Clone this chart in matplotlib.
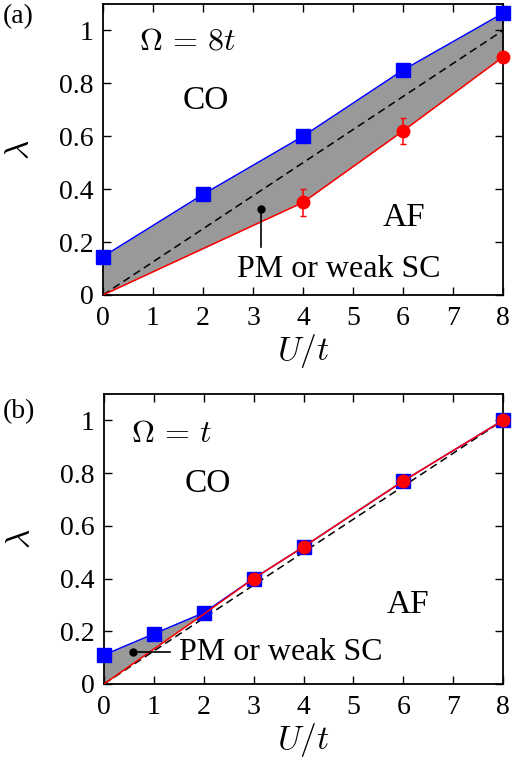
import numpy as np
import matplotlib
matplotlib.use("Agg")
import matplotlib.pyplot as plt

plt.rcParams['font.family'] = ['Liberation Serif', 'DejaVu Serif']
plt.rcParams['mathtext.fontset'] = 'cm'

# Omega = 8t
u_co_a = [0, 2, 4, 6, 8]
lam_co_a = [0.145, 0.38, 0.60, 0.85, 1.065]
u_af_a = [0, 4, 6, 8]
lam_af_a = [0.0, 0.35, 0.62, 0.90]
err_af_a = [0.0, 0.05, 0.05, 0.0]

# Omega = t
u_co_b = [0, 1, 2, 3, 4, 6, 8]
lam_co_b = [0.11, 0.19, 0.27, 0.40, 0.52, 0.77, 1.0]
u_af_b = [0, 2, 3, 4, 6, 8]
lam_af_b = [0.0, 0.265, 0.40, 0.52, 0.77, 1.0]

u_diag = [0, 8]
lam_diag = [0, 1]

xticks = [0, 1, 2, 3, 4, 5, 6, 7, 8]
yticks = [0, 0.2, 0.4, 0.6, 0.8, 1.0]
yticklabels = ['0', '0.2', '0.4', '0.6', '0.8', '1']

fig = plt.figure(figsize=(5.29, 7.62), dpi=100)
ax1 = fig.add_axes([0.1947, 0.6129, 0.7562, 0.3819])
ax2 = fig.add_axes([0.1966, 0.1024, 0.7543, 0.3806])


def style(ax):
    ax.set_xlim(0, 8)
    ax.set_ylim(0, 1.1)
    ax.set_xticks(xticks)
    ax.set_yticks(yticks)
    ax.set_yticklabels(yticklabels)
    ax.tick_params(direction='in', top=True, right=True, length=6, width=1,
                   labelsize=20)
    ax.tick_params(axis='x', pad=8)
    ax.tick_params(axis='y', pad=7)
    for s in ax.spines.values():
        s.set_linewidth(1.3)
    ax.set_ylabel(r'$\lambda$', fontsize=24, labelpad=16)
    ax.set_xlabel(r'$U/t$', fontsize=24, labelpad=1)


# panel (a)
ax = ax1
xs = np.linspace(0, 8, 200)
ax.fill_between(xs, np.interp(xs, u_af_a, lam_af_a), np.interp(xs, u_co_a, lam_co_a),
                color='#999999', lw=0, zorder=1)
ax.plot(u_diag, lam_diag, 'k--', lw=1.1, dashes=(5, 3), zorder=2)
ax.plot(u_co_a, lam_co_a, color='blue', lw=1.1, marker='s', ms=9.5, clip_on=False, zorder=4)
ax.plot(u_af_a, lam_af_a, color='red', lw=1.1, zorder=3)
ax.errorbar(u_af_a[1:], lam_af_a[1:], yerr=err_af_a[1:], fmt='o', color='red',
            ms=9, capsize=2.5, elinewidth=1.1, clip_on=False, zorder=5)
ax.plot([3.16, 3.16], [0.325, 0.18], color='k', lw=1.2, zorder=6)
ax.plot([3.16], [0.325], 'ko', ms=5, zorder=6)
ax.text(4.72, 0.095, 'PM or weak SC', fontsize=23, ha='center', va='center')
ax.text(2.06, 0.735, 'CO', fontsize=24, ha='center', va='center')
ax.text(6.02, 0.29, 'AF', fontsize=24, ha='center', va='center')
ax.text(0.72, 0.955, r'$\Omega\,=\,8t$', fontsize=23, ha='left', va='center')
style(ax)
fig.text(0.005, 0.978, '(a)', fontsize=20, ha='left', va='center')

# panel (b)
ax = ax2
xs = np.linspace(0, 2, 100)
ax.fill_between(xs, np.interp(xs, u_af_b, lam_af_b), np.interp(xs, u_co_b, lam_co_b),
                color='#999999', lw=0, zorder=1)
ax.plot(u_diag, lam_diag, 'k--', lw=1.1, dashes=(5, 3), zorder=2)
ax.plot(u_co_b, lam_co_b, color='blue', lw=1.1, marker='s', ms=9.5, clip_on=False, zorder=3)
ax.plot(u_af_b, lam_af_b, color='red', lw=1.1, zorder=4)
ax.plot(u_af_b[2:], lam_af_b[2:], 'o', color='red', ms=9, clip_on=False, zorder=5)
ax.plot([0.58, 1.32], [0.12, 0.12], color='k', lw=1.2, zorder=6)
ax.plot([0.58], [0.12], 'ko', ms=5, zorder=6)
ax.text(1.5, 0.12, 'PM or weak SC', fontsize=23, ha='left', va='center')
ax.text(2.08, 0.76, 'CO', fontsize=24, ha='center', va='center')
ax.text(6.1, 0.30, 'AF', fontsize=24, ha='center', va='center')
ax.text(0.55, 0.945, r'$\Omega\,=\,t$', fontsize=23, ha='left', va='center')
style(ax)
fig.text(0.005, 0.46, '(b)', fontsize=20, ha='left', va='center')

fig.savefig('out.png', dpi=100)
